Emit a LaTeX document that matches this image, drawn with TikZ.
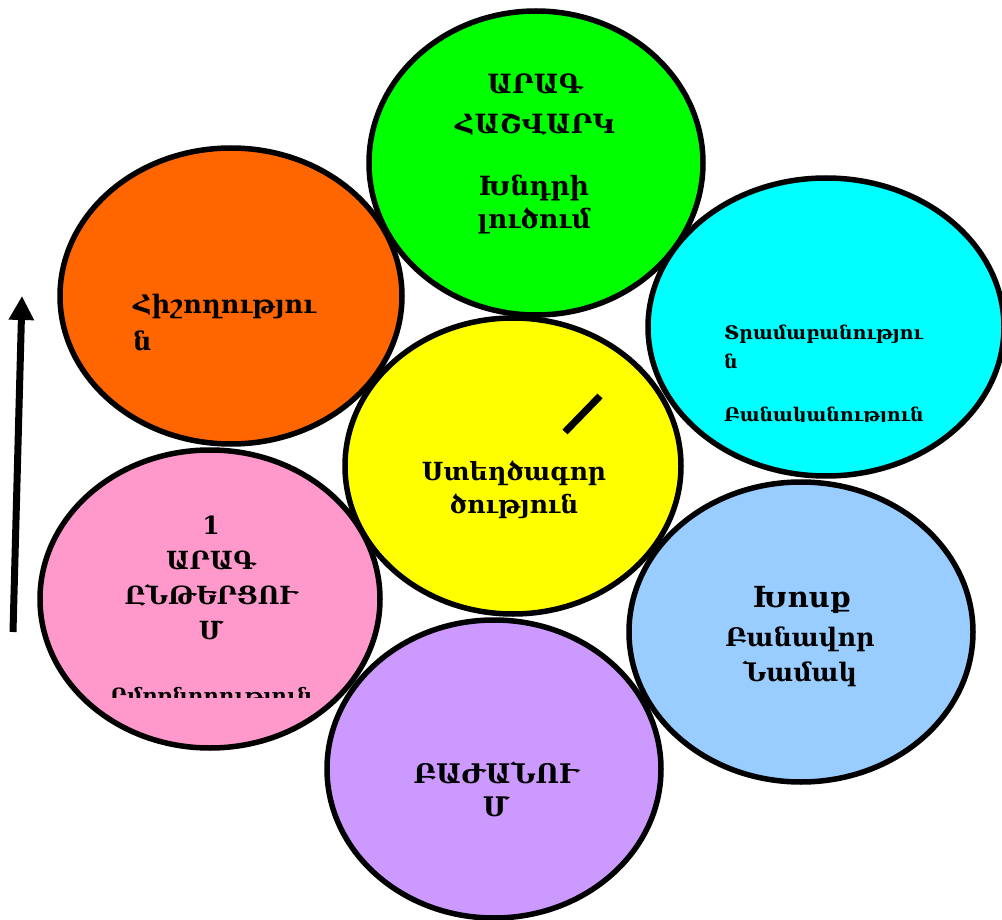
\documentclass[tikz,border=0pt]{standalone}
\usepackage{fontspec}
\setmainfont{DejaVu Serif}
\usetikzlibrary{shapes.geometric,arrows.meta}
\tikzset{
  bubble/.style={ellipse,draw=black,line width=5.5pt,inner sep=0pt,
    minimum width=#1},
  lbl/.style={font=\bfseries,align=center,inner sep=0pt,text=black},
}
\begin{document}
\begin{tikzpicture}[x=1pt,y=-1pt]
\useasboundingbox (0,0) rectangle (1002,920);
\fill[white] (0,0) rectangle (1002,920);

% bubbles
\node[bubble=334pt,minimum height=304pt,fill={rgb,255:red,0;green,255;blue,0}] (green) at (536,163) {};
\node[bubble=342pt,minimum height=296pt,fill={rgb,255:red,255;green,102;blue,0}] (orange) at (231,296) {};
\node[bubble=356pt,minimum height=298pt,fill={rgb,255:red,0;green,255;blue,255}] (cyan) at (826,327) {};
\node[bubble=336pt,minimum height=296pt,fill={rgb,255:red,255;green,255;blue,0}] (yellow) at (513,466) {};
\node[bubble=340pt,minimum height=298pt,fill={rgb,255:red,255;green,153;blue,204}] (pink) at (210,599) {};
\node[bubble=344pt,minimum height=300pt,fill={rgb,255:red,153;green,204;blue,255}] (blue) at (801,632) {};
\node[bubble=334pt,minimum height=298pt,fill={rgb,255:red,204;green,153;blue,255}] (violet) at (494,769) {};

% labels
\node[lbl,font=\bfseries\fontsize{26.5}{40}\selectfont] (g1) at (535,105) {ԱՐԱԳ\\ՀԱՇՎԱՐԿ};
\node[lbl,font=\bfseries\fontsize{26.5}{33}\selectfont] (g2) at (534,205) {Խնդրի\\լուծում};

\node[lbl,font=\bfseries\fontsize{25.5}{37}\selectfont,align=left,anchor=west] (o1) at (133,322) {Հիշողությու\\ն};

\node[lbl,font=\bfseries\fontsize{18.8}{29}\selectfont,align=left,anchor=west] (c1) at (724,347) {Տրամաբանությու\\ն};
\begin{scope}
  \clip (700,395) rectangle (960,421);
  \node[lbl,font=\bfseries\fontsize{18.8}{29}\selectfont,anchor=base west] (c2) at (724,421) {Բանականություն};
\end{scope}

\node[lbl,font=\bfseries\fontsize{25}{33}\selectfont] (y1) at (514,490) {Ստեղծագոր\\ծություն};
\draw[line width=7pt] (565,432) -- (600,396);

\node[lbl,font=\bfseries\fontsize{25}{35}\selectfont] (p1) at (211,578) {1\\ԱՐԱԳ\\ԸՆԹԵՐՑՈՒ\\Մ};
\begin{scope}
  \clip (90,680) rectangle (330,697);
  \node[lbl,font=\bfseries\fontsize{21}{35}\selectfont,anchor=base] (p2) at (211,703) {Ըմբռնողություն};
\end{scope}

\node[lbl,font=\bfseries\fontsize{29}{40}\selectfont] (b1) at (802,600) {Խոսք};
\node[lbl,font=\bfseries\fontsize{25.5}{35}\selectfont] (b2) at (800,657) {Բանավոր\\Նամակ};

\node[lbl,font=\bfseries\fontsize{27}{33}\selectfont] (v1) at (496,789) {ԲԱԺԱՆՈՒ\\Մ};

% upward arrow at the left
\coordinate (a0) at (13,632);
\coordinate (a1) at (22,296);
\draw[line width=7pt,-{Triangle[width=24pt,length=24pt]}] (a0) -- (a1);
\end{tikzpicture}
\end{document}
